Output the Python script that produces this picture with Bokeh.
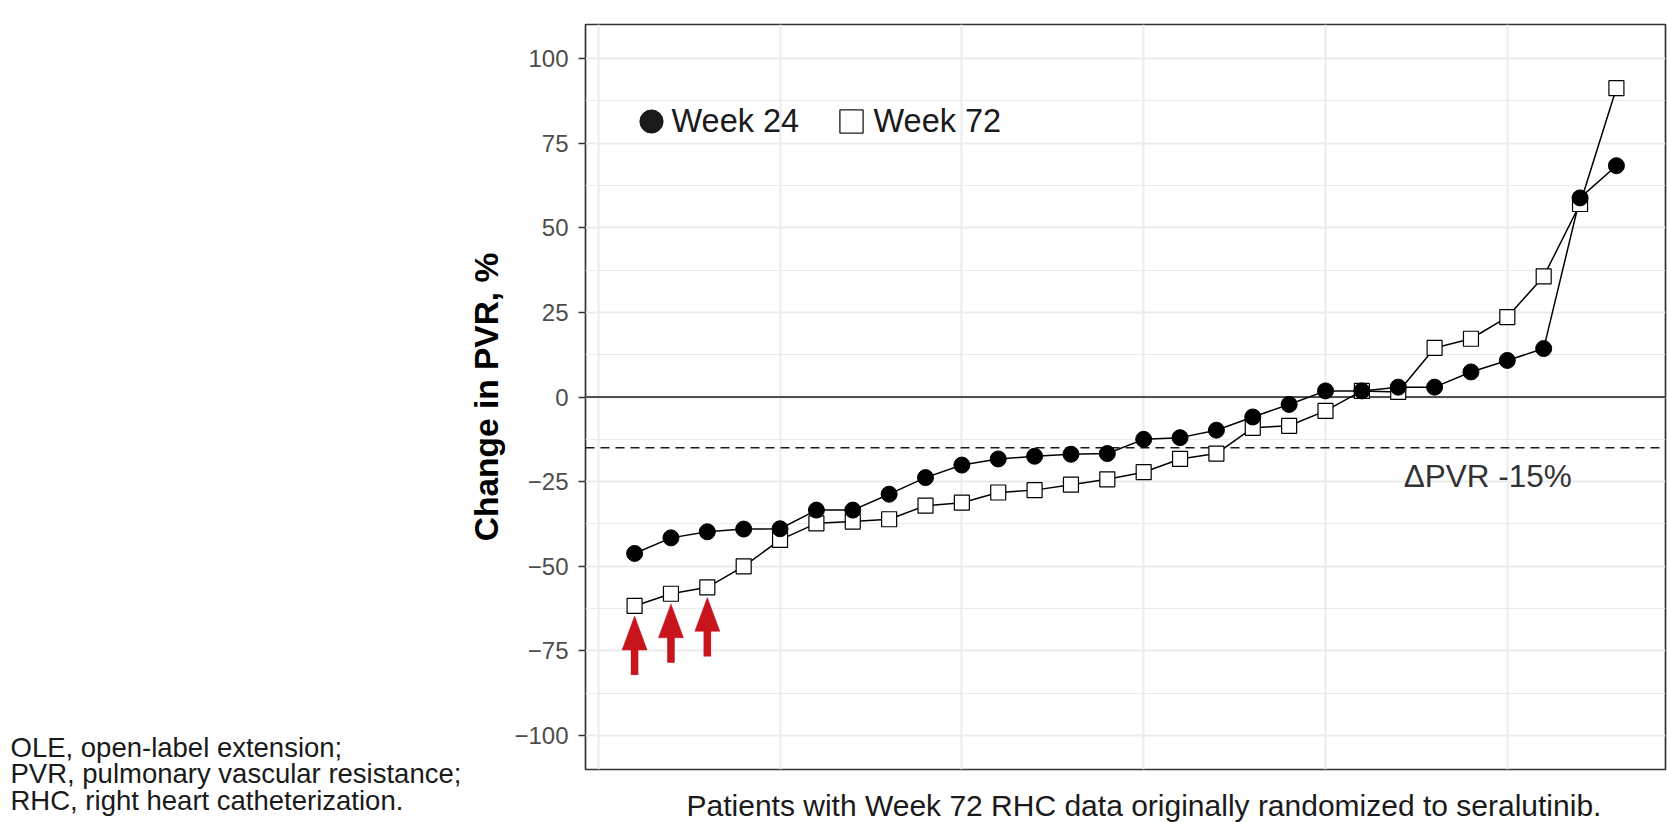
import math
from bokeh.plotting import figure
from bokeh.layouts import row, column
from bokeh.models import (Range1d, FixedTicker, Span, Label, Legend, LegendItem,
                          ColumnDataSource)
from bokeh.embed import file_html
from bokeh.resources import INLINE

# ---------------- data ----------------
patients = list(range(1, 29))
week24 = [-46.2, -41.6, -39.8, -39.0, -38.9, -33.4, -33.4, -28.7, -23.8, -20.1,
          -18.3, -17.5, -16.9, -16.7, -12.5, -12.0, -9.8, -5.9, -2.2, 1.8,
          1.8, 2.9, 2.9, 7.4, 10.8, 14.3, 58.8, 68.3]
week72 = [-61.7, -58.1, -56.2, -50.0, -42.2, -37.3, -36.8, -36.1, -32.1, -31.2,
          -28.2, -27.5, -25.9, -24.3, -22.2, -18.3, -16.7, -9.1, -8.5, -4.1,
          1.8, 1.5, 14.5, 17.2, 23.6, 35.6, 57.0, 91.2]
highlighted = [1, 2, 3]          # patients marked with red arrows
threshold = -15
threshold_label = "ΔPVR -15%"
y_ticks = [-100, -75, -50, -25, 0, 25, 50, 75, 100]
y_labels = ["−100", "−75", "−50", "−25", "0", "25", "50", "75", "100"]
y_minor = [-87.5, -62.5, -37.5, -12.5, 12.5, 37.5, 62.5, 87.5]
x_grid = [0, 5, 10, 15, 20, 25]
series_labels = ["Week 24", "Week 72"]
x_title = "Patients with Week 72 RHC data originally randomized to seralutinib."
y_title = "Change in PVR, %"
footnotes = ["OLE, open-label extension;",
             "PVR, pulmonary vascular resistance;",
             "RHC, right heart catheterization."]

# ---------------- layout / style ----------------
FONT = "Liberation Sans"
PAGE_W, PAGE_H = 1667, 822
LEFT_W = 465                      # footnote column
MAIN_W = PAGE_W - LEFT_W
B_LEFT, B_TOP, B_RIGHT, B_BOTTOM = 120, 24, 2, 2
MAIN_H = 771
BOTTOM_H = PAGE_H - MAIN_H
FRAME_W = MAIN_W - B_LEFT - B_RIGHT
FRAME_H = MAIN_H - B_TOP - B_BOTTOM
X0, X1 = -0.35, 29.35
Y0, Y1 = -110, 110
RED = "#C8141C"
GRID = "#EBEBEB"
TXT = "#1A1A1A"

p = figure(width=MAIN_W, height=MAIN_H, output_backend="svg", toolbar_location=None,
           x_range=Range1d(X0, X1), y_range=Range1d(Y0, Y1),
           min_border_left=B_LEFT, min_border_top=B_TOP,
           min_border_right=B_RIGHT, min_border_bottom=B_BOTTOM)
p.background_fill_color = "white"
p.border_fill_color = "white"
p.outline_line_color = "#333333"
p.outline_line_width = 1.7

p.xaxis.visible = False
p.xgrid.ticker = FixedTicker(ticks=x_grid)
p.xgrid.grid_line_color = GRID
p.xgrid.grid_line_width = 2

yax = p.yaxis[0]
yax.ticker = FixedTicker(ticks=y_ticks, minor_ticks=y_minor)
yax.major_label_overrides = {t: s for t, s in zip(y_ticks, y_labels)}
yax.axis_line_color = None
yax.major_tick_in = 0
yax.major_tick_out = 7
yax.major_tick_line_color = "#333333"
yax.major_tick_line_width = 1.6
yax.minor_tick_line_color = None
yax.major_label_text_font = FONT
yax.major_label_text_font_size = "24px"
yax.major_label_text_color = "#4D4D4D"
yax.major_label_standoff = 10
yax.axis_label = y_title
yax.axis_label_text_font = FONT
yax.axis_label_text_font_style = "bold"
yax.axis_label_text_font_size = "33.5px"
yax.axis_label_text_color = "black"
yax.axis_label_standoff = 6

p.ygrid.grid_line_color = GRID
p.ygrid.grid_line_width = 2
p.ygrid.minor_grid_line_color = GRID
p.ygrid.minor_grid_line_width = 1.2

# reference lines
p.add_layout(Span(location=0, dimension="width", line_color=TXT,
                  line_width=1.6, level="underlay"))
p.add_layout(Span(location=threshold, dimension="width", line_color=TXT,
                  line_width=1.6, line_dash="9 6", level="underlay"))

src = ColumnDataSource(data=dict(x=patients, w24=week24, w72=week72))
p.line("x", "w72", source=src, line_color="black", line_width=1.5)
p.line("x", "w24", source=src, line_color="black", line_width=1.5)
p.scatter("x", "w72", source=src, marker="square", size=15, fill_color="white",
          line_color="black", line_width=1.2)
p.scatter("x", "w24", source=src, marker="circle", size=16, fill_color="black",
          line_color="black", line_width=1)

# red arrows below the highlighted Week 72 points
px_per_x = FRAME_W / (X1 - X0)
GAP, HEAD_LEN, SHAFT_LEN = 3.0, 10.0, 7.4      # in y data units
HEAD_HALF_W = 12.5 / px_per_x                   # 12.5 px in x data units
ax = [patients[i - 1] for i in highlighted]
tips = [week72[i - 1] - GAP for i in highlighted]
bases = [t - HEAD_LEN for t in tips]
tails = [b - SHAFT_LEN for b in bases]
p.segment(x0=ax, y0=tails, x1=ax, y1=[b + 0.5 for b in bases], line_color=RED,
          line_width=7.5, line_cap="butt")
p.patches(xs=[[x - HEAD_HALF_W, x + HEAD_HALF_W, x] for x in ax],
          ys=[[b, b, t] for b, t in zip(bases, tips)],
          fill_color=RED, line_color=RED, line_width=0.5)

# threshold label
p.add_layout(Label(x=22.15, y=-23.4, text=threshold_label, text_font=FONT,
                   text_font_size="31.5px", text_color="#333333",
                   text_baseline="middle", text_align="left"))

# series legend: glyphs from a Legend, texts as labels beside them
nan_src = ColumnDataSource(data=dict(x=[math.nan], y=[math.nan]))
l24 = p.scatter("x", "y", source=nan_src, marker="circle", size=24,
                fill_color=TXT, line_color=TXT)
l72 = p.scatter("x", "y", source=nan_src, marker="square", size=22,
                fill_color="white", line_color=TXT, line_width=1.3)
legend = Legend(items=[LegendItem(label=" ", renderers=[l24]),
                       LegendItem(label=" ", renderers=[l72])],
                orientation="horizontal", location=(37, 619),
                glyph_width=58, glyph_height=58, label_standoff=0, spacing=142,
                label_width=0, label_height=0, padding=0, margin=0,
                border_line_color=None, background_fill_alpha=0,
                label_text_font=FONT, label_text_font_size="1px")
p.add_layout(legend)
for lx, lab in zip([86, 288], series_labels):
    p.add_layout(Label(x=lx, y=649, x_units="screen", y_units="screen", text=lab,
                       text_font=FONT, text_font_size="32.5px", text_color=TXT,
                       text_baseline="middle", text_align="left"))

# strip below the frame carrying the x-axis title (its frame aligns with p's)
pb = figure(width=MAIN_W, height=BOTTOM_H, output_backend="svg",
            toolbar_location=None, x_axis_location=None, y_axis_location=None,
            min_border=0, x_range=Range1d(0, 1), y_range=Range1d(0, 1))
pb.outline_line_color = None
pb.grid.visible = False
pb.add_layout(Label(x=101, y=17, x_units="screen", y_units="screen", text=x_title,
                    text_font=FONT, text_font_size="30px", text_color=TXT,
                    text_baseline="middle", text_align="left"))

# column at the left carrying the footnotes
pl = figure(width=LEFT_W, height=PAGE_H, output_backend="svg",
            toolbar_location=None, x_axis_location=None, y_axis_location=None,
            min_border=0, x_range=Range1d(0, 1), y_range=Range1d(0, 1))
pl.outline_line_color = None
pl.grid.visible = False
for k, note in enumerate(footnotes):
    pl.add_layout(Label(x=10, y=75.4 - 26.8 * k, x_units="screen", y_units="screen",
                        text=note, text_font=FONT, text_font_size="27.5px",
                        text_color=TXT, text_baseline="middle",
                        text_align="left"))

layout = row(pl, column(p, pb, spacing=0), spacing=0)
open("out.html", "w").write(file_html(layout, INLINE))
